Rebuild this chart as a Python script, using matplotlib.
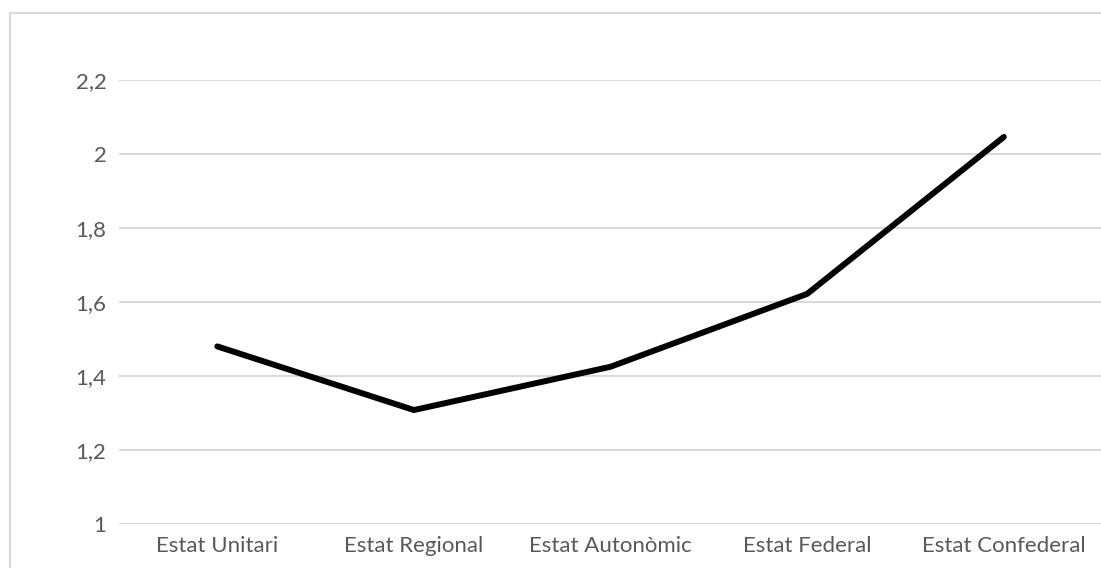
import matplotlib.pyplot as plt
from matplotlib.patches import Rectangle
from matplotlib.ticker import FuncFormatter

categories = ["Estat Unitari", "Estat Regional", "Estat Autonòmic", "Estat Federal", "Estat Confederal"]
values = [1.48, 1.308, 1.425, 1.622, 2.046]
y_ticks = [1, 1.2, 1.4, 1.6, 1.8, 2, 2.2]

W, H = 1101, 568
plt.rcParams['font.family'] = ['Lato', 'DejaVu Sans']

fig = plt.figure(figsize=(W / 100, H / 100), dpi=100, facecolor="white")

# outer chart border (runs off the right and bottom of the picture)
fig.patches.append(Rectangle((9.5 / W, -0.1), 1.2, (H - 12.5) / H + 0.1,
                             transform=fig.transFigure, fill=False,
                             edgecolor="#d9d9d9", linewidth=1.5))

ax = fig.add_axes([119 / W, 44 / H, (W - 119) / W + 0.001, (524 - 80) / H])
x = list(range(len(categories)))
ax.plot(x, values, color="black", linewidth=4.3, solid_capstyle="round",
        solid_joinstyle="round", zorder=3)

ax.set_xlim(-0.5, len(categories) - 0.5)
ax.set_ylim(1, 2.2)
ax.set_yticks(y_ticks)
ax.yaxis.set_major_formatter(FuncFormatter(lambda v, p: f"{v:g}".replace(".", ",")))
ax.set_xticks(x)
ax.set_xticklabels(categories)

ax.grid(axis="y", color="#d9d9d9", linewidth=1.5, zorder=0)
for s in ax.spines.values():
    s.set_visible(False)
ax.tick_params(axis="both", length=0, labelsize=16, labelcolor="#595959")
ax.tick_params(axis="y", pad=9)
ax.tick_params(axis="x", pad=9)
ax.set_facecolor("none")

fig.savefig("out.png", dpi=100, facecolor="white")
